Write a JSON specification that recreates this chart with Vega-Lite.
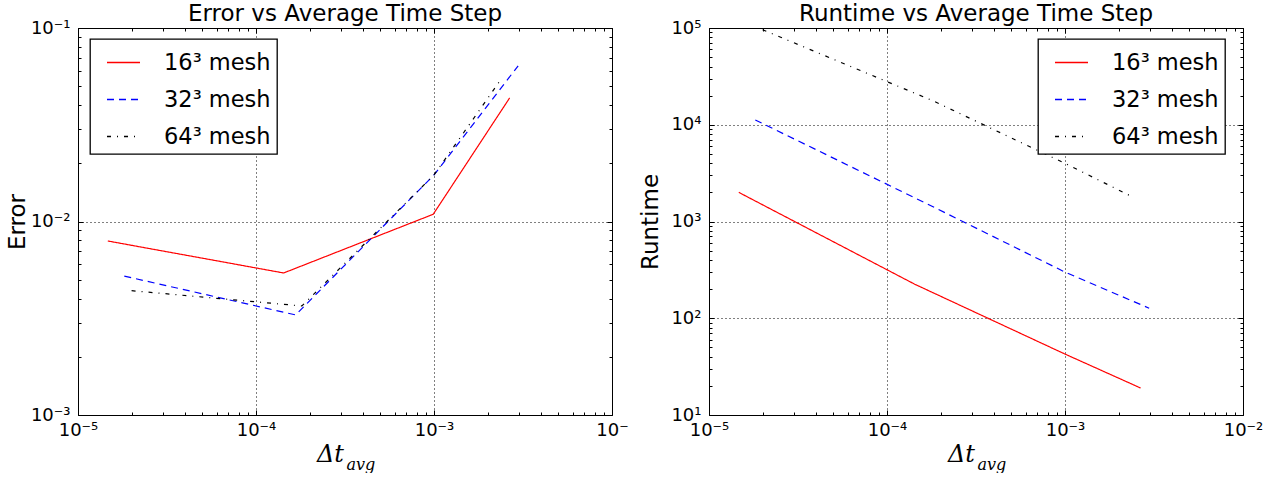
{
  "$schema": "https://vega.github.io/schema/vega-lite/v6.json",
  "padding": {"left": 5, "top": 2, "right": 5, "bottom": 0},
  "background": "white",
  "datasets": {
    "runs": [
      {"dt": 1.47e-5, "error": 7.93e-3, "runtime": 2000, "mesh": "16³ mesh"},
      {"dt": 1.43e-4, "error": 5.42e-3, "runtime": 225, "mesh": "16³ mesh"},
      {"dt": 9.9e-4, "error": 1.09e-2, "runtime": 43, "mesh": "16³ mesh"},
      {"dt": 2.66e-3, "error": 4.35e-2, "runtime": 19, "mesh": "16³ mesh"},
      {"dt": 1.82e-5, "error": 5.22e-3, "runtime": 11200, "mesh": "32³ mesh"},
      {"dt": 1.67e-4, "error": 3.29e-3, "runtime": 1530, "mesh": "32³ mesh"},
      {"dt": 1.0e-3, "error": 1.74e-2, "runtime": 300, "mesh": "32³ mesh"},
      {"dt": 2.97e-3, "error": 6.38e-2, "runtime": 127, "mesh": "32³ mesh"},
      {"dt": 2.0e-5, "error": 4.39e-3, "runtime": 96000, "mesh": "64³ mesh"},
      {"dt": 1.81e-4, "error": 3.66e-3, "runtime": 17700, "mesh": "64³ mesh"},
      {"dt": 1.0e-3, "error": 1.74e-2, "runtime": 3990, "mesh": "64³ mesh"},
      {"dt": 2.33e-3, "error": 5.28e-2, "runtime": 1840, "mesh": "64³ mesh"}
    ]
  },
  "data": {"name": "runs"},
  "hconcat": [
    {
      "width": 534,
      "height": 387,
      "title": {"text": "Error vs Average Time Step"},
      "layer": [
        {
          "mark": {"type": "line", "strokeWidth": 1.2},
          "encoding": {
            "x": {"field": "dt", "type": "quantitative", "scale": {"type": "log", "domain": [1e-5, 1e-2], "nice": false},
              "axis": {"orient": "bottom", "values": [1e-5, 1e-4, 1e-3, 1e-2], "grid": true, "tickSize": -5, "labelPadding": 11, "labelFlush": false, "labelOverlap": false,
                "labelExpr": "datum.value < 2e-5 ? '10⁻⁵' : datum.value < 2e-4 ? '10⁻⁴' : datum.value < 2e-3 ? '10⁻³' : '10⁻\u00a0'",
                "title": "Δt", "titleFont": "DejaVu Serif", "titleFontStyle": "italic", "titleFontSize": 24, "titleX": 252, "titleY": 46, "titleAlign": "center", "titleBaseline": "alphabetic", "titleAngle": 0}},
            "y": {"field": "error", "type": "quantitative", "scale": {"type": "log", "domain": [1e-3, 1e-1], "nice": false},
              "axis": {"orient": "left", "values": [1e-3, 1e-2, 1e-1], "grid": true, "tickSize": -5, "labelPadding": 13, "labelOverlap": false, "labelFlush": false,
                "labelExpr": "datum.value < 5e-3 ? '10⁻³' : datum.value < 5e-2 ? '10⁻²' : '10⁻¹'",
                "title": "Error", "titleFontSize": 23, "titleX": -54, "titleY": 193.5, "titleAngle": -90, "titleAlign": "center", "titleBaseline": "alphabetic"}},
            "color": {"field": "mesh", "type": "nominal", "scale": {"domain": ["16³ mesh", "32³ mesh", "64³ mesh"], "range": ["#ff0000", "#0000ff", "#000000"]},
              "legend": {"orient": "none", "legendX": 12, "legendY": 11, "title": null}},
            "strokeDash": {"field": "mesh", "type": "nominal", "scale": {"domain": ["16³ mesh", "32³ mesh", "64³ mesh"], "range": [[1, 0], [7, 5], [4, 6, 1, 6]]},
              "legend": {"orient": "none", "legendX": 12, "legendY": 11, "title": null}}
          }
        },
        {
          "mark": {"type": "point", "opacity": 0},
          "encoding": {
            "x": {"field": "dt", "type": "quantitative", "scale": {"type": "log", "domain": [1e-5, 1e-2], "nice": false},
              "axis": {"orient": "bottom", "values": [2e-5, 3e-5, 4e-5, 5e-5, 6e-5, 7e-5, 8e-5, 9e-5, 2e-4, 3e-4, 4e-4, 5e-4, 6e-4, 7e-4, 8e-4, 9e-4, 2e-3, 3e-3, 4e-3, 5e-3, 6e-3, 7e-3, 8e-3, 9e-3], "grid": false, "labels": false, "tickSize": -3, "title": null}},
            "y": {"field": "error", "type": "quantitative", "scale": {"type": "log", "domain": [1e-3, 1e-1], "nice": false},
              "axis": {"orient": "left", "values": [2e-3, 3e-3, 4e-3, 5e-3, 6e-3, 7e-3, 8e-3, 9e-3, 2e-2, 3e-2, 4e-2, 5e-2, 6e-2, 7e-2, 8e-2, 9e-2], "grid": false, "labels": false, "tickSize": -3, "title": null}}
          }
        },
        {
          "mark": {"type": "point", "opacity": 0},
          "encoding": {
            "x": {"field": "dt", "type": "quantitative", "scale": {"type": "log", "domain": [1e-5, 1e-2], "nice": false},
              "axis": {"orient": "top", "values": [1e-5, 1e-4, 1e-3, 1e-2], "grid": false, "labels": false, "tickSize": -5, "title": null}},
            "y": {"field": "error", "type": "quantitative", "scale": {"type": "log", "domain": [1e-3, 1e-1], "nice": false},
              "axis": {"orient": "right", "values": [1e-3, 1e-2, 1e-1], "grid": false, "labels": false, "tickSize": -5, "title": null}}
          }
        },
        {
          "mark": {"type": "point", "opacity": 0},
          "encoding": {
            "x": {"field": "dt", "type": "quantitative", "scale": {"type": "log", "domain": [1e-5, 1e-2], "nice": false},
              "axis": {"orient": "top", "values": [2e-5, 3e-5, 4e-5, 5e-5, 6e-5, 7e-5, 8e-5, 9e-5, 2e-4, 3e-4, 4e-4, 5e-4, 6e-4, 7e-4, 8e-4, 9e-4, 2e-3, 3e-3, 4e-3, 5e-3, 6e-3, 7e-3, 8e-3, 9e-3], "grid": false, "labels": false, "tickSize": -3, "title": null}},
            "y": {"field": "error", "type": "quantitative", "scale": {"type": "log", "domain": [1e-3, 1e-1], "nice": false},
              "axis": {"orient": "right", "values": [2e-3, 3e-3, 4e-3, 5e-3, 6e-3, 7e-3, 8e-3, 9e-3, 2e-2, 3e-2, 4e-2, 5e-2, 6e-2, 7e-2, 8e-2, 9e-2], "grid": false, "labels": false, "tickSize": -3, "title": null}}
          }
        },
        {
          "mark": {"type": "point", "opacity": 0},
          "encoding": {
            "x": {"field": "dt", "type": "quantitative", "scale": {"type": "log", "domain": [1e-5, 1e-2], "nice": false},
              "axis": {"orient": "bottom", "values": [1e-5], "grid": false, "labels": false, "ticks": false, "title": "avg", "titleFont": "DejaVu Serif", "titleFontStyle": "italic", "titleFontSize": 16, "titleX": 268, "titleY": 54, "titleAlign": "left", "titleBaseline": "alphabetic", "titleAngle": 0}},
            "y": {"field": "error", "type": "quantitative", "scale": {"type": "log", "domain": [1e-3, 1e-1], "nice": false}, "axis": null}
          }
        }
      ],
      "resolve": {"axis": {"x": "independent", "y": "independent"}}
    },
    {
      "width": 534,
      "height": 387,
      "title": {"text": "Runtime vs Average Time Step"},
      "layer": [
        {
          "mark": {"type": "line", "strokeWidth": 1.2},
          "encoding": {
            "x": {"field": "dt", "type": "quantitative", "scale": {"type": "log", "domain": [1e-5, 1e-2], "nice": false},
              "axis": {"orient": "bottom", "values": [1e-5, 1e-4, 1e-3, 1e-2], "grid": true, "tickSize": -5, "labelPadding": 11, "labelFlush": false, "labelOverlap": false,
                "labelExpr": "datum.value < 2e-5 ? '10⁻⁵' : datum.value < 2e-4 ? '10⁻⁴' : datum.value < 2e-3 ? '10⁻³' : '10⁻²'",
                "title": "Δt", "titleFont": "DejaVu Serif", "titleFontStyle": "italic", "titleFontSize": 24, "titleX": 252, "titleY": 46, "titleAlign": "center", "titleBaseline": "alphabetic", "titleAngle": 0}},
            "y": {"field": "runtime", "type": "quantitative", "scale": {"type": "log", "domain": [10, 100000], "nice": false},
              "axis": {"orient": "left", "values": [10, 100, 1000, 10000, 100000], "grid": true, "tickSize": -5, "labelPadding": 13, "labelOverlap": false, "labelFlush": false,
                "labelExpr": "datum.value < 50 ? '10¹' : datum.value < 500 ? '10²' : datum.value < 5000 ? '10³' : datum.value < 50000 ? '10⁴' : '10⁵'",
                "title": "Runtime", "titleFontSize": 23, "titleX": -52, "titleY": 193.5, "titleAngle": -90, "titleAlign": "center", "titleBaseline": "alphabetic"}},
            "color": {"field": "mesh", "type": "nominal", "scale": {"domain": ["16³ mesh", "32³ mesh", "64³ mesh"], "range": ["#ff0000", "#0000ff", "#000000"]},
              "legend": {"orient": "none", "legendX": 329, "legendY": 11, "title": null}},
            "strokeDash": {"field": "mesh", "type": "nominal", "scale": {"domain": ["16³ mesh", "32³ mesh", "64³ mesh"], "range": [[1, 0], [7, 5], [4, 6, 1, 6]]},
              "legend": {"orient": "none", "legendX": 329, "legendY": 11, "title": null}}
          }
        },
        {
          "mark": {"type": "point", "opacity": 0},
          "encoding": {
            "x": {"field": "dt", "type": "quantitative", "scale": {"type": "log", "domain": [1e-5, 1e-2], "nice": false},
              "axis": {"orient": "bottom", "values": [2e-5, 3e-5, 4e-5, 5e-5, 6e-5, 7e-5, 8e-5, 9e-5, 2e-4, 3e-4, 4e-4, 5e-4, 6e-4, 7e-4, 8e-4, 9e-4, 2e-3, 3e-3, 4e-3, 5e-3, 6e-3, 7e-3, 8e-3, 9e-3], "grid": false, "labels": false, "tickSize": -3, "title": null}},
            "y": {"field": "runtime", "type": "quantitative", "scale": {"type": "log", "domain": [10, 100000], "nice": false},
              "axis": {"orient": "left", "values": [20, 30, 40, 50, 60, 70, 80, 90, 200, 300, 400, 500, 600, 700, 800, 900, 2000, 3000, 4000, 5000, 6000, 7000, 8000, 9000, 20000, 30000, 40000, 50000, 60000, 70000, 80000, 90000], "grid": false, "labels": false, "tickSize": -3, "title": null}}
          }
        },
        {
          "mark": {"type": "point", "opacity": 0},
          "encoding": {
            "x": {"field": "dt", "type": "quantitative", "scale": {"type": "log", "domain": [1e-5, 1e-2], "nice": false},
              "axis": {"orient": "top", "values": [1e-5, 1e-4, 1e-3, 1e-2], "grid": false, "labels": false, "tickSize": -5, "title": null}},
            "y": {"field": "runtime", "type": "quantitative", "scale": {"type": "log", "domain": [10, 100000], "nice": false},
              "axis": {"orient": "right", "values": [10, 100, 1000, 10000, 100000], "grid": false, "labels": false, "tickSize": -5, "title": null}}
          }
        },
        {
          "mark": {"type": "point", "opacity": 0},
          "encoding": {
            "x": {"field": "dt", "type": "quantitative", "scale": {"type": "log", "domain": [1e-5, 1e-2], "nice": false},
              "axis": {"orient": "top", "values": [2e-5, 3e-5, 4e-5, 5e-5, 6e-5, 7e-5, 8e-5, 9e-5, 2e-4, 3e-4, 4e-4, 5e-4, 6e-4, 7e-4, 8e-4, 9e-4, 2e-3, 3e-3, 4e-3, 5e-3, 6e-3, 7e-3, 8e-3, 9e-3], "grid": false, "labels": false, "tickSize": -3, "title": null}},
            "y": {"field": "runtime", "type": "quantitative", "scale": {"type": "log", "domain": [10, 100000], "nice": false},
              "axis": {"orient": "right", "values": [20, 30, 40, 50, 60, 70, 80, 90, 200, 300, 400, 500, 600, 700, 800, 900, 2000, 3000, 4000, 5000, 6000, 7000, 8000, 9000, 20000, 30000, 40000, 50000, 60000, 70000, 80000, 90000], "grid": false, "labels": false, "tickSize": -3, "title": null}}
          }
        },
        {
          "mark": {"type": "point", "opacity": 0},
          "encoding": {
            "x": {"field": "dt", "type": "quantitative", "scale": {"type": "log", "domain": [1e-5, 1e-2], "nice": false},
              "axis": {"orient": "bottom", "values": [1e-5], "grid": false, "labels": false, "ticks": false, "title": "avg", "titleFont": "DejaVu Serif", "titleFontStyle": "italic", "titleFontSize": 16, "titleX": 268, "titleY": 54, "titleAlign": "left", "titleBaseline": "alphabetic", "titleAngle": 0}},
            "y": {"field": "runtime", "type": "quantitative", "scale": {"type": "log", "domain": [10, 100000], "nice": false}, "axis": null}
          }
        }
      ],
      "resolve": {"axis": {"x": "independent", "y": "independent"}}
    }
  ],
  "spacing": 97,
  "bounds": "flush",
  "resolve": {
    "scale": {"color": "independent", "strokeDash": "independent"},
    "legend": {"color": "independent", "strokeDash": "independent"}
  },
  "config": {
    "view": {"stroke": "#000000", "strokeWidth": 1},
    "font": "DejaVu Sans",
    "title": {"font": "DejaVu Sans", "fontSize": 23, "fontWeight": "normal", "color": "#000000", "offset": -7, "baseline": "alphabetic", "anchor": "middle"},
    "axis": {"domain": false, "labelFont": "DejaVu Sans", "labelFontSize": 18, "labelColor": "#000000", "tickColor": "#000000", "tickWidth": 1, "gridColor": "#000000", "gridDash": [1, 3], "gridOpacity": 1, "gridWidth": 1, "titleFont": "DejaVu Sans", "titleFontWeight": "normal", "titleColor": "#000000"},
    "legend": {"labelFont": "DejaVu Sans", "labelFontSize": 22.5, "labelColor": "#000000", "labelExpr": "replace(datum.label, ' ', '\u00a0\u00a0') + '\u00a0\u00a0'", "symbolType": "stroke", "symbolSize": 1089, "symbolStrokeWidth": 1.5, "padding": 6, "symbolOffset": 10, "labelOffset": 23, "rowPadding": 8, "strokeColor": "#000000", "strokeWidth": 1.3, "fillColor": "#ffffff", "cornerRadius": 0, "labelLimit": 300}
  }
}
